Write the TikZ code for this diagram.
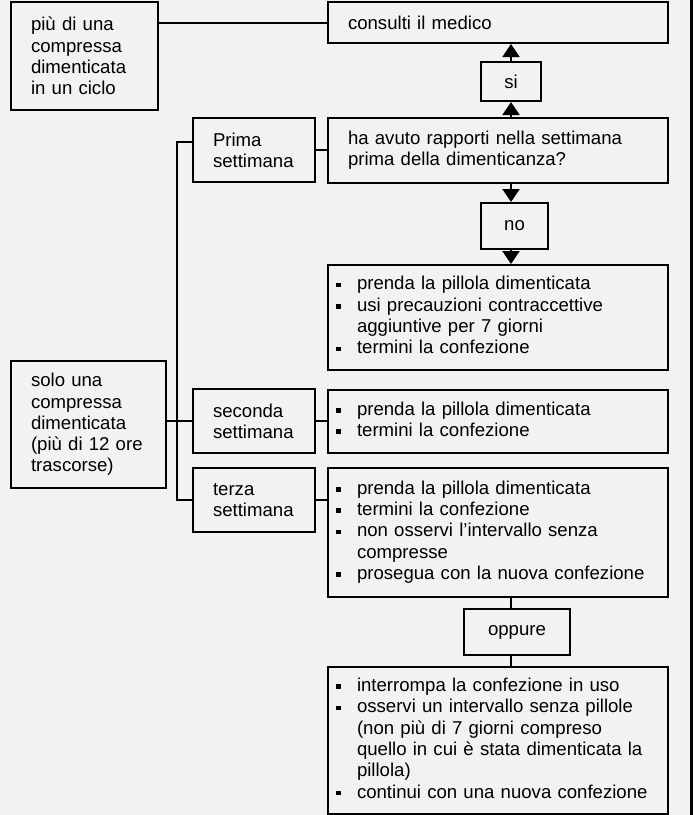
\documentclass[tikz,border=0pt]{standalone}
\usepackage{fontspec}
\setmainfont{Liberation Sans}
\usetikzlibrary{arrows.meta,positioning}

\definecolor{sfondo}{HTML}{F2F2F2}
\newcommand{\pto}{\rule[2.6pt]{4.5pt}{4.5pt}}
\newcommand{\testo}{\fontsize{18.6}{21.3}\selectfont\hyphenpenalty=10000\relax}
\newenvironment{punti}{\begin{tabular}{@{}p{21pt}@{}l@{}}}{\end{tabular}}

\tikzset{
	riq/.style={draw, line width=2pt, inner xsep=20pt, inner ysep=0pt, anchor=north west, align=left,
		font=\testo},
	lista/.style={riq, inner xsep=8pt, text width=324pt, minimum width=340pt},
	etich/.style={draw, line width=2pt, inner sep=0pt, anchor=north west, font=\testo},
	linea/.style={line width=2pt},
	freccia/.style={line width=2pt, -{Triangle[width=17pt,length=13pt]}},
}

\begin{document}
\begin{tikzpicture}[x=1pt,y=-1pt]
	\fill[sfondo] (0,0) rectangle (693,815);
	\useasboundingbox (0,0) rectangle (693,815);
	\draw[line width=3pt] (691.5,0) -- (691.5,815);

	% colonna sinistra
	\node[riq, text width=107pt, minimum height=108pt] (piu) at (10,1) {più di una\\compressa\\dimenticata\\in un ciclo};
	\node[riq, text width=115pt, minimum height=127pt] (solo) at (10,360) {solo una\\compressa\\dimenticata\\(più di 12 ore\\trascorse)};

	% settimane
	\node[riq, text width=82pt, minimum height=64pt] (prima) at (192,117) {Prima\\settimana};
	\node[riq, text width=82pt, minimum height=64pt] (seconda) at (192,388) {seconda\\settimana};
	\node[riq, text width=82pt, minimum height=64pt] (terza) at (192,467) {terza\\settimana};

	% colonna destra
	\node[riq, text width=300pt, minimum height=41pt] (cons) at (327,1) {consulti il medico};
	\node[etich, minimum width=60pt, minimum height=39pt] (si) at (480,61) {si};
	\node[riq, text width=300pt, minimum height=65pt] (dom) at (327,117) {ha avuto rapporti nella settimana\\prima della dimenticanza?};
	\node[etich, minimum width=67pt, minimum height=46pt] (no) at (480,202) {no};
	\node[lista, minimum height=105pt] (az1) at (327,264) {\begin{punti}
		\pto & prenda la pillola dimenticata\\
		\pto & usi precauzioni contraccettive\\
		     & aggiuntive per 7 giorni\\
		\pto & termini la confezione\\
	\end{punti}};
	\node[lista, minimum height=63pt] (az2) at (327,389) {\begin{punti}
		\pto & prenda la pillola dimenticata\\
		\pto & termini la confezione\\
	\end{punti}};
	\node[lista, minimum height=129pt] (az3) at (327,467) {\begin{punti}
		\pto & prenda la pillola dimenticata\\
		\pto & termini la confezione\\
		\pto & non osservi l’intervallo senza\\
		     & compresse\\
		\pto & prosegua con la nuova confezione\\
	\end{punti}};
	\node[etich, minimum width=106pt, minimum height=46pt] (oppure) at (463,608) {oppure};
	\node[lista, minimum height=147pt] (az4) at (327,666) {\begin{punti}
		\pto & interrompa la confezione in uso\\
		\pto & osservi un intervallo senza pillole\\
		     & (non più di 7 giorni compreso\\
		     & quello in cui è stata dimenticata la\\
		     & pillola)\\
		\pto & continui con una nuova confezione\\
	\end{punti}};

	% collegamenti
	\coordinate (tronco) at (177,142);
	\draw[linea] (prima.west |- tronco) -- (tronco) -- (tronco |- terza.west) -- (terza.west);
	\draw[linea] (solo.east |- seconda.west) -- (seconda.west);
	\draw[linea] (piu.east |- cons.west) -- (cons.west);
	\draw[linea] (prima.east) -- (prima.east -| dom.west);
	\draw[linea] (seconda.east) -- (seconda.east -| az2.west);
	\draw[linea] (terza.east) -- (terza.east -| az3.west);

	% frecce
	\draw[freccia] (dom.north -| si.south) -- (si.south);
	\draw[freccia] (si.north) -- (si.north |- cons.south);
	\draw[freccia] (dom.south -| si.south) -- (no.north -| si.south);
	\draw[freccia] (no.south -| si.south) -- (az1.north -| si.south);
	\draw[linea] (az3.south -| si.south) -- (oppure.north -| si.south);
	\draw[linea] (oppure.south -| si.south) -- (az4.north -| si.south);
\end{tikzpicture}
\end{document}
